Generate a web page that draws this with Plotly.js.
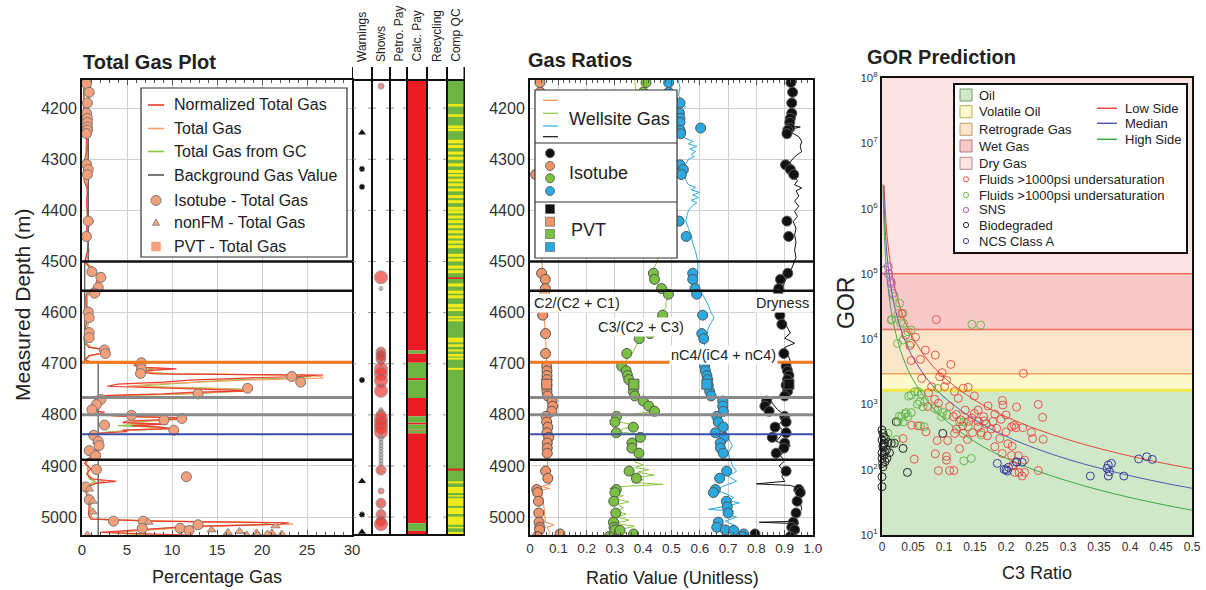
<!DOCTYPE html>
<html><head><meta charset="utf-8">
<script src="https://cdn.plot.ly/plotly-3.0.1.min.js"></script>
<style>html,body{margin:0;padding:0;background:#fff}#chart{width:1206px;height:590px}</style>
</head><body><div id="chart"></div>
<script>
// ================= DATA =================
const depthTicks = [4200,4300,4400,4500,4600,4700,4800,4900,5000];

// Panel 1 – Total gas curves (depth m, % gas)
const tgDepth = [4150,4180,4220,4250,4260,4280,4300,4320,4340,4350,4360,4380,4400,4420,4440,4460,4480,4500,4510,4520,4530,4540,4550,4560,4570,4590,4610,4630,4650,4660,4668,4672,4678,4684,4692,4697,4700,4704,4707,4710,4713,4716,4720,4722,4725,4728,4732,4736,4740,4744,4747,4750,4753,4756,4759,4762,4765,4770,4780,4790,4795,4800,4803,4806,4809,4812,4815,4818,4821,4824,4827,4830,4833,4836,4842,4850,4856,4862,4868,4875,4882,4888,4895,4905,4915,4925,4930,4934,4945,4960,4980,4995,5004,5008,5011,5014,5018,5022,5026,5030,5033,5035];
const tgNormalized = [0.2,0.2,0.2,0.3,0.5,0.6,0.3,0.5,0.2,0.4,0.7,0.5,0.6,0.6,0.5,0.7,0.6,0.3,0.7,1.2,1.8,1.6,1.4,0.6,0.4,0.5,0.6,0.4,0.2,0.3,0.8,2.4,2.8,0.8,0.3,1.0,6.0,5.8,7.0,10.5,7.5,6.5,8.0,26.8,24.0,18.0,12.0,9.0,4.0,2.8,10.0,14.0,18.5,12.0,9.0,3.0,1.0,1.5,1.2,0.8,2.5,1.5,5.0,11.5,10.0,5.0,4.5,9.5,5.5,8.5,10.0,4.5,5.0,1.5,1.0,2.0,1.2,2.2,1.5,2.0,1.0,0.5,0.3,1.0,0.5,1.0,3.8,1.5,0.3,0.6,0.8,0.7,1.0,8.0,23.0,22.0,12.0,9.0,5.0,2.0,8.0,12.0];
const tgTotal = [0.2,0.2,0.3,0.4,0.5,0.4,0.5,0.6,0.4,0.5,0.5,0.6,0.5,0.7,0.6,0.6,0.7,0.4,0.8,1.3,2.0,1.8,1.5,0.7,0.5,0.6,0.8,0.6,0.5,0.5,1.0,2.2,2.6,0.9,0.4,1.0,6.0,6.2,6.5,9.5,8.0,7.0,9.0,24.0,26.5,26.8,18.0,12.0,8.0,5.0,12.0,17.0,18.5,14.0,11.0,4.0,1.2,1.6,1.3,1.0,1.8,2.0,5.5,10.5,11.0,6.0,5.5,8.0,6.0,9.0,9.0,5.0,4.0,2.0,1.2,1.8,1.5,2.0,1.6,1.8,1.2,0.6,0.4,0.8,0.6,1.2,2.5,1.2,0.5,0.8,0.9,0.8,1.2,9.0,22.0,23.5,14.0,10.0,7.0,3.0,6.0,10.0];
const tgFromGC = [0.2,0.2,0.3,0.5,0.6,0.5,0.6,0.7,0.5,0.6,0.6,0.7,0.6,0.8,0.7,0.6,0.8,0.4,1.0,1.5,2.2,1.9,1.6,0.8,0.6,0.6,0.8,0.6,0.5,0.5,1.0,2.3,2.5,0.9,0.4,1.0,6.2,6.0,6.5,8.0,7.0,6.8,10.0,22.0,25.5,23.0,16.0,13.0,10.0,6.0,13.0,19.0,18.0,15.0,12.0,5.0,1.5,1.8,1.4,1.2,1.6,2.0,5.5,9.5,10.5,7.0,5.0,7.0,4.0,8.0,10.0,6.0,3.0,2.0,1.4,1.6,1.8,1.8,1.4,1.6,1.4,0.7,0.5,0.6,0.7,0.8,1.5,1.0,0.6,0.7,1.0,1.0,1.2,8.0,20.0,21.0,13.0,9.0,6.5,3.0,5.0,10.0];
const bgGasDepth = [4145,4500,4500,4697,4697,5035];
const bgGasValue = [0.7,0.7,0.3,0.3,1.8,1.8];
const isoTgDepth = [4152,4169,4190,4210,4220,4228,4237,4243,4250,4310,4320,4330,4421,4451,4520,4531,4551,4562,4599,4610,4639,4649,4673,4680,4698,4710,4719,4725,4736,4748,4759,4770,4780,4790,4801,4807,4810,4820,4830,4840,4852,4860,4870,4880,4907,4921,4941,4966,5008,5008,5015,5022,5022,5026];
const isoTgValue = [0.5,0.8,0.6,0.5,0.6,0.6,0.6,0.6,0.5,0.5,0.7,0.6,0.7,0.5,1.1,2.1,1.8,1.4,0.7,0.8,0.8,0.8,2.5,2.6,6.6,6.6,6.5,23.3,24.3,18.4,12.9,2.1,1.6,1.1,5.5,11.1,9.1,2.5,10.2,1.3,1.8,1.9,0.8,1.5,1.6,11.6,0.4,0.8,3.5,6.8,12.9,6.7,10.9,11.9];
const nonFmDepth = [4945,4969,4990,5010,5017,5025,5028,5030,5031,5031,5033,5033,5035,5035,5035];
const nonFmValue = [0.8,1.2,1.2,7.4,21.5,14.4,17.5,16.2,19.4,21.1,20.6,22.2,18.3,19.5,0.6];
const pvtTgDepth = [null];
const pvtTgValue = [null];
const markerDepth = [4500,4557,4697,4766,4800,4838,4888];
const markerKind  = ['top','top','gas','contact','contact','owc','top'];

// Tracks
const trackNames = ['Warnings','Shows','Petro. Pay','Calc. Pay','Recycling','Comp QC'];
const warnTriangleDepth = [4248,4930,5029];
const warnStarDepth = [4319,4354,4732,4995];
const showDepth = [4157,4531,4553,4677,4684,4691,4700,4710,4720,4733,4743,4753,4790,4800,4808,4816,4824,4834,4842,4848,4854,4860,4866,4872,4878,4884,4890,4896,4908,4949,4973,4995,5008,5014];
const showLevel = [1,3,0,2,2,2,0,3,3,3,0,3,0,2,3,3,3,3,0,0,0,0,0,0,0,0,0,0,2,1,2,2,2,3];
const calcPayFrom = [4145,4674,4680,4698,4728,4732,4767,4803,4815,4819,4829,4831,4836,5012,5027];
const calcPayTo   = [4674,4680,4698,4728,4732,4767,4803,4815,4819,4829,4831,4836,5012,5027,5035];
const calcPayFlag = [1,0,1,0,1,0,1,0,1,0,1,0,1,0,1];
const qcYellowFrom = [4192,4212,4234,4240,4262,4272,4285,4295,4308,4321,4329,4338,4347,4357,4370,4380,4393,4400,4410,4419,4429,4439,4449,4459,4468,4485,4494,4508,4517,4543,4557,4566,4583,4592,4607,4613,4649,4654,4662,4672,4681,4688,4708,4930,4941,4957,4963,4982,4999,5019,5029];
const qcYellowTo   = [4197,4217,4239,4245,4269,4278,4291,4301,4314,4327,4334,4344,4353,4363,4376,4386,4399,4406,4416,4425,4435,4445,4455,4465,4474,4491,4500,4514,4523,4549,4563,4572,4590,4597,4611,4617,4654,4658,4667,4676,4686,4692,4712,4934,4953,4960,4978,4994,5015,5022,5035];
const qcRedFrom = [4531,4905];
const qcRedTo   = [4534,4909];

// Panel 2 – Gas ratios, wellsite gas curves
const wsC2Depth = [4145,4180,4220,4260,4300,4340,4380,4420,4460,4500,4530,4560,4600,4640,4680,4720,4760,4785,4795,4805,4840,4880,4910,4925,4935,4940,4944,4948,4960,4990,5010,5015,5020,5030,5035];
const wsC2 = [0.04,0.041,0.04,0.042,0.041,0.04,0.042,0.041,0.043,0.042,0.045,0.05,0.05,0.055,0.058,0.06,0.062,0.07,0.075,0.06,0.062,0.063,0.06,0.065,0.075,0.04,0.07,0.03,0.045,0.05,0.055,0.085,0.06,0.07,0.065];
const wsC3Depth = [4145,4200,4250,4300,4350,4400,4450,4480,4500,4510,4520,4535,4550,4565,4580,4590,4600,4610,4620,4630,4640,4650,4660,4670,4680,4690,4700,4710,4720,4730,4740,4750,4760,4770,4778,4785,4790,4795,4800,4806,4812,4818,4822,4827,4833,4838,4842,4848,4855,4862,4870,4878,4885,4892,4898,4903,4907,4912,4918,4922,4927,4932,4936,4940,4944,4948,4953,4958,4964,4970,4975,4982,4988,4994,5000,5006,5012,5018,5024,5030,5035];
const wsC3 = [0.37,0.38,0.40,0.41,0.42,0.43,0.45,0.455,0.45,0.44,0.43,0.435,0.46,0.49,0.48,0.48,0.46,0.45,0.424,0.41,0.40,0.39,0.38,0.37,0.36,0.345,0.33,0.34,0.35,0.355,0.37,0.37,0.375,0.39,0.41,0.43,0.445,0.42,0.33,0.31,0.30,0.35,0.37,0.33,0.31,0.39,0.41,0.38,0.36,0.37,0.39,0.37,0.38,0.37,0.40,0.37,0.42,0.38,0.44,0.38,0.40,0.36,0.47,0.33,0.28,0.32,0.29,0.33,0.30,0.35,0.31,0.33,0.30,0.34,0.31,0.35,0.30,0.37,0.32,0.34,0.30];
const wsNC4Depth = [4145,4160,4175,4190,4198,4205,4215,4230,4245,4258,4265,4270,4275,4280,4285,4290,4295,4300,4310,4320,4330,4340,4350,4355,4360,4365,4370,4375,4380,4385,4390,4400,4410,4420,4435,4450,4465,4480,4500,4520,4540,4555,4570,4585,4600,4610,4620,4630,4645,4655,4700,4720,4740,4760,4770,4785,4800,4815,4830,4845,4860,4875,4890,4900,4910,4920,4930,4940,4948,4955,4962,4968,4972,4978,4985,4988,4995,5000,5008,5015,5022,5028,5035];
const wsNC4 = [0.524,0.53,0.525,0.54,0.55,0.535,0.53,0.535,0.55,0.545,0.575,0.56,0.59,0.565,0.585,0.57,0.58,0.56,0.55,0.54,0.545,0.55,0.56,0.585,0.57,0.6,0.575,0.595,0.57,0.59,0.575,0.56,0.555,0.55,0.56,0.57,0.575,0.585,0.593,0.593,0.59,0.6,0.615,0.63,0.64,0.65,0.64,0.63,0.625,0.615,0.625,0.63,0.635,0.645,0.68,0.69,0.67,0.68,0.69,0.70,0.715,0.70,0.71,0.716,0.73,0.70,0.73,0.68,0.66,0.695,0.72,0.70,0.74,0.70,0.63,0.72,0.70,0.73,0.69,0.72,0.70,0.73,0.72];
const wsDryDepth = [4145,4180,4220,4235,4237,4240,4248,4256,4265,4275,4285,4295,4305,4318,4330,4342,4350,4356,4362,4372,4382,4392,4402,4412,4422,4435,4448,4462,4478,4492,4505,4520,4540,4560,4580,4600,4620,4640,4650,4660,4668,4680,4695,4710,4730,4750,4762,4770,4780,4790,4800,4812,4822,4832,4842,4852,4860,4870,4880,4890,4900,4910,4920,4930,4935,4938,4945,4955,4970,4985,5000,5008,5010,5013,5020,5028,5035];
const wsDry = [0.93,0.925,0.92,0.92,0.955,0.93,0.925,0.95,0.96,0.955,0.96,0.935,0.92,0.925,0.93,0.945,0.935,0.96,0.94,0.95,0.935,0.95,0.935,0.945,0.93,0.94,0.935,0.94,0.935,0.94,0.93,0.92,0.90,0.885,0.88,0.89,0.90,0.92,0.90,0.935,0.90,0.91,0.92,0.915,0.905,0.90,0.89,0.85,0.86,0.875,0.90,0.89,0.875,0.90,0.885,0.87,0.92,0.90,0.885,0.90,0.88,0.90,0.89,0.90,0.80,0.92,0.96,0.95,0.955,0.96,0.94,0.945,0.81,0.95,0.93,0.95,0.94];

// Panel 2 – Isotube & PVT samples
const isoDepth = [4150,4169,4190,4210,4220,4228,4239,4243,4250,4311,4320,4330,4421,4451,4523,4535,4553,4564,4605,4623,4641,4651,4680,4705,4714,4723,4731,4742,4754,4763,4773,4783,4793,4803,4814,4824,4835,4844,4855,4865,4875,4910,4924,4946,4952,4969,4980,4992,5010,5020,5025,5026,5033,5038];
const isoC2  = [0.035,0.036,0.037,0.038,0.038,0.04,0.04,0.04,0.04,0.04,0.041,0.02,0.04,0.04,0.041,0.054,0.054,0.052,0.045,null,0.055,null,0.055,0.059,0.06,0.06,0.06,0.06,0.06,0.062,0.078,0.08,0.077,0.057,0.059,0.063,0.06,0.066,0.061,0.061,0.061,0.055,0.063,0.024,0.027,0.03,null,0.031,0.032,0.035,0.034,null,0.106,0.026];
const isoC3  = [0.41,0.40,0.40,0.40,0.41,0.41,0.42,0.41,0.42,0.42,0.43,0.42,0.43,0.44,0.436,0.44,0.465,0.489,0.469,null,0.424,0.386,0.342,0.324,0.34,0.345,0.349,0.365,0.365,0.37,0.40,0.42,0.44,0.306,0.30,0.365,0.305,0.39,0.36,0.36,0.385,0.35,0.376,0.305,0.30,0.296,null,0.303,0.295,0.297,0.30,0.318,0.366,0.28];
const isoNC4 = [0.49,0.49,0.53,0.528,0.53,0.53,0.603,0.53,0.532,0.53,0.542,0.535,0.527,0.552,0.575,0.575,0.583,0.589,0.61,null,0.607,0.614,null,0.617,0.62,0.625,0.628,0.63,0.635,0.64,0.681,0.681,0.683,0.66,0.665,0.683,0.655,0.686,0.672,0.673,0.683,0.695,0.67,0.655,0.648,0.694,0.697,0.70,0.665,0.66,0.69,0.72,0.755,0.75];
const isoDry = [0.922,0.928,0.925,0.925,0.92,0.918,0.918,0.911,0.908,0.903,0.92,0.932,0.908,0.914,0.911,0.885,0.879,0.877,0.883,0.89,null,null,0.897,0.905,0.91,0.915,0.91,0.905,0.91,0.90,0.836,0.83,0.845,0.90,0.905,0.866,0.905,0.856,0.90,0.897,0.87,0.905,null,0.95,0.955,0.944,null,0.94,0.93,0.925,0.935,null,0.795,0.92];
const pvtDepth = [4740];
const pvtC2 = [0.059], pvtC3 = [0.367], pvtNC4 = [0.625], pvtDry = [0.915];

// Panel 3 – GOR prediction
const gorBandName = ['Oil','Volatile Oil','Retrograde Gas','Wet Gas','Dry Gas'];
const gorBandLow  = [10,1650,2950,14000,100000];
const gorBandHigh = [1650,2950,14000,100000,1e8];
const lowSideC3  = [0.0034,0.004,0.005,0.007,0.01,0.015,0.02,0.03,0.04,0.05,0.075,0.1,0.15,0.2,0.25,0.3,0.35,0.4,0.45,0.5];
const lowSideGor = [2250000,1625000,1040000,530600,260000,115600,65000,28900,16250,10400,4620,2600,1156,650,416,289,212,162,128,104];
const medianC3   = [0.0024,0.003,0.004,0.005,0.007,0.01,0.015,0.02,0.03,0.04,0.05,0.075,0.1,0.15,0.2,0.25,0.3,0.35,0.4,0.45,0.5];
const medianGor  = [2260000,1440000,812500,520000,265300,130000,57800,32500,14400,8125,5200,2310,1300,578,325,208,144,106,81,64,52];
const highSideC3 = [0.0016,0.002,0.003,0.004,0.005,0.007,0.01,0.015,0.02,0.03,0.04,0.05,0.075,0.1,0.15,0.2,0.25,0.3,0.35,0.4,0.45,0.5];
const highSideGor= [2340000,1500000,667000,375000,240000,122400,60000,26700,15000,6670,3750,2400,1070,600,267,150,96,67,49,37.5,29.6,24];
const fluidsRedC3 = [0.0876,0.054,0.070,0.086,0.047,0.062,0.111,0.097,0.093,0.104,0.064,0.080,0.101,0.131,0.139,0.149,0.117,0.123,0.074,0.091,0.109,0.134,0.155,0.171,0.194,0.195,0.200,0.182,0.164,0.149,0.140,0.127,0.115,0.155,0.168,0.179,0.176,0.160,0.146,0.131,0.117,0.138,0.125,0.106,0.089,0.071,0.058,0.048,0.086,0.104,0.104,0.091,0.109,0.116,0.052,0.034,0.209,0.192,0.217,0.213,0.203,0.194,0.182,0.190,0.209,0.211,0.228,0.252,0.259,0.241,0.243,0.260,0.227,0.216,0.220,0.212,0.214,0.221,0.230,0.226,0.252,0.032,0.038,0.045,0.075,0.085,0.120,0.130,0.145,0.165,0.185,0.155,0.170,0.210,0.230,0.200,0.120];
const fluidsRedGor = [20000,10700,6800,5700,4700,4900,4100,3070,2650,2340,2500,1870,1870,1770,1830,1350,1580,1240,930,1040,930,820,820,950,1150,980,690,710,650,730,550,580,650,550,500,550,420,370,370,360,360,290,210,280,280,380,470,480,175,160,140,97,97,97,145,300,455,590,910,480,250,177,225,300,166,117,2990,1000,634,373,299,292,440,440,164,114,91,91,91,80,97,24500,11500,8000,1500,1200,700,470,620,560,430,450,330,230,140,380,420];
const fluidsGreenC3 = [0.0285,0.034,0.026,0.015,0.030,0.035,0.042,0.047,0.034,0.025,0.047,0.145,0.159,0.047,0.053,0.058,0.063,0.043,0.061,0.069,0.057,0.066,0.037,0.032,0.028,0.039,0.042,0.047,0.034,0.026,0.085,0.090,0.098,0.096,0.105,0.125,0.132,0.139,0.062,0.068,0.090,0.0097,0.023,0.132,0.144,0.160,0.0156,0.020];
const fluidsGreenGor = [35300,24800,24800,19600,17800,17400,13000,13800,9700,8600,8600,16800,16400,1390,1570,1570,1440,1340,1100,1100,1010,920,713,650,660,750,650,750,540,540,870,820,750,650,690,540,540,455,470,455,1760,360,290,137,149,340,20000,45000];
const snsC3  = [0.005,0.0102,0.0145,0.0172,0.0108,0.015];
const snsGor = [115000,129000,76000,50000,100000,71000];
const bioC3  = [0.0,0.0016,0.003,0.0,0.004,0.0097,0.015,0.02,0.0016,0.007,0.0,0.003,0.0,0.005,0.0016,0.0,0.0,0.023,0.034,0.041,0.098,0.012,0.006,0.002,0.008,0.001,0.004];
const bioGor = [405,360,320,285,254,260,254,254,225,200,182,168,149,133,111,78,55,543,212,91,360,182,300,240,150,125,190];
const ncsC3  = [0.186,0.197,0.202,0.204,0.217,0.217,0.226,0.336,0.365,0.363,0.367,0.370,0.365,0.390,0.414,0.427,0.436,0.200];
const ncsGor = [125,101,95,109,132,130,130,80,118,105,93,125,80,80,146,158,144,100];

// ================= LAYOUT HELPERS =================
const W = 1206, H = 590;
const px = v => v / W;
const py = v => 1 - v / H;
const FONT = 'Liberation Sans, Arial, Helvetica, sans-serif';
const TXT = '#222';
const yDom = [py(535), py(80)];
const shapes = [], annotations = [], traces = [];

function pRect(x0,y0,x1,y1,fill,lc,lw){shapes.push({type:'rect',xref:'paper',yref:'paper',x0:px(x0),x1:px(x1),y0:py(y1),y1:py(y0),fillcolor:fill,line:{color:lc,width:lw},layer:'above'});}
function pLine(x0,y0,x1,y1,c,w){shapes.push({type:'line',xref:'paper',yref:'paper',x0:px(x0),x1:px(x1),y0:py(y0),y1:py(y1),line:{color:c,width:w},layer:'above'});}
function pCircle(cx,cy,r,fill,lc,lw){shapes.push({type:'circle',xref:'paper',yref:'paper',x0:px(cx-r),x1:px(cx+r),y0:py(cy+r),y1:py(cy-r),fillcolor:fill,line:{color:lc,width:lw},layer:'above'});}
function pTri(cx,cy,s,fill,lc){shapes.push({type:'path',xref:'paper',yref:'paper',path:`M ${px(cx-s)} ${py(cy+s*0.8)} L ${px(cx+s)} ${py(cy+s*0.8)} L ${px(cx)} ${py(cy-s)} Z`,fillcolor:fill,line:{color:lc,width:0.8},layer:'above'});}
function pText(x,y,text,size,o){o=o||{};annotations.push(Object.assign({xref:'paper',yref:'paper',x:px(x),y:py(y),text:text,showarrow:false,xanchor:'left',yanchor:'middle',font:{family:FONT,size:size,color:TXT}},o));}

// ================= PANEL 1 TRACES =================
const C_RED='#ee3a2f', C_ORG='#f6a066', C_GRN='#8cc63f';
traces.push({type:'scatter',mode:'lines',x:tgFromGC,y:tgDepth,xaxis:'x',yaxis:'y',line:{color:C_GRN,width:1.2}});
traces.push({type:'scatter',mode:'lines',x:tgTotal,y:tgDepth,xaxis:'x',yaxis:'y',line:{color:C_ORG,width:1.2}});
traces.push({type:'scatter',mode:'lines',x:tgNormalized,y:tgDepth,xaxis:'x',yaxis:'y',line:{color:C_RED,width:1.2}});
traces.push({type:'scatter',mode:'lines',x:bgGasValue,y:bgGasDepth,xaxis:'x',yaxis:'y',line:{color:'#666',width:1.4}});
const isoMarker = {symbol:'circle',size:10,color:'#f4a07a',line:{color:'#777',width:1}};
traces.push({type:'scatter',mode:'markers',x:isoTgValue,y:isoTgDepth,xaxis:'x',yaxis:'y',marker:isoMarker});
traces.push({type:'scatter',mode:'markers',x:nonFmValue,y:nonFmDepth,xaxis:'x',yaxis:'y',marker:{symbol:'triangle-up',size:8,color:'#f4a07a',line:{color:'#777',width:0.8}}});
traces.push({type:'scatter',mode:'markers',x:pvtTgValue,y:pvtTgDepth,xaxis:'x',yaxis:'y',marker:{symbol:'square',size:9,color:'#f4a07a'}});

// marker (formation) lines
const kindStyle = {top:{color:'#111',width:2.5},gas:{color:'#f47b20',width:3},contact:{color:'#8a8a8a',width:3},owc:{color:'#3c4fa3',width:2}};
markerDepth.forEach((d,i)=>{
  const st = kindStyle[markerKind[i]];
  shapes.push({type:'line',xref:'x domain',x0:0,x1:1,yref:'y',y0:d,y1:d,line:st,layer:'above'});
  shapes.push({type:'line',xref:'x3 domain',x0:0,x1:1,yref:'y2',y0:d,y1:d,line:st,layer:'above'});
});

// ================= TRACKS =================
const edges = [0,20,38,55,75,95,112.5]; // track column edges (axis units)
const ctr = i => (edges[i]+edges[i+1])/2;
traces.push({type:'scatter',mode:'markers',x:warnTriangleDepth.map(()=>ctr(0)),y:warnTriangleDepth,xaxis:'x2',yaxis:'y4',marker:{symbol:'triangle-up',size:7,color:'#111'}});
traces.push({type:'scatter',mode:'markers',x:warnStarDepth.map(()=>ctr(0)),y:warnStarDepth,xaxis:'x2',yaxis:'y4',marker:{symbol:'asterisk-open',size:5,color:'#111',line:{color:'#111',width:1.3}}});
const showSize = {0:4,1:6,2:10,3:13}, showColor = {0:'#a0a0a0',1:'#e0605a',2:'#d63e38',3:'#ee3a34'};
traces.push({type:'scatter',mode:'markers',x:showDepth.map(()=>ctr(1)),y:showDepth,xaxis:'x2',yaxis:'y4',
  marker:{size:showLevel.map(l=>showSize[l]),color:showLevel.map(l=>showColor[l]),line:{color:'#7a7a7a',width:1}}});
function bandTrace(from,to,col,color,w){
  return {type:'bar',x:from.map(()=>ctr(col)),base:from,y:from.map((f,i)=>to[i]-f),width:w,xaxis:'x2',yaxis:'y4',marker:{color:color,line:{width:0}},hoverinfo:'skip'};
}
const payF=[],payT=[],nonF=[],nonT=[];
calcPayFrom.forEach((f,i)=>{ if(calcPayFlag[i]){payF.push(f);payT.push(calcPayTo[i]);} else {nonF.push(f);nonT.push(calcPayTo[i]);} });
traces.push(bandTrace(payF,payT,3,'#ed1c24',19));
traces.push(bandTrace(nonF,nonT,3,'#6cb543',19));
traces.push(bandTrace([4145],[5035],5,'#6cb543',16.5));
traces.push(bandTrace(qcYellowFrom,qcYellowTo,5,'#f2ea1a',16.5));
traces.push(bandTrace(qcRedFrom,qcRedTo,5,'#ed1c24',16.5));
// track frame
edges.forEach(e=>{
  shapes.push({type:'line',xref:'x2',yref:'paper',x0:e,x1:e,y0:py(536),y1:py(67),line:{color:'#111',width:2},layer:'above'});
});
shapes.push({type:'line',xref:'x2',yref:'paper',x0:0,x1:112.5,y0:py(80),y1:py(80),line:{color:'#111',width:2},layer:'above'});
shapes.push({type:'line',xref:'x2',yref:'paper',x0:0,x1:112.5,y0:py(535),y1:py(535),line:{color:'#111',width:2},layer:'above'});
depthTicks.forEach(d=>{
  edges.forEach(e=>{
    shapes.push({type:'line',xref:'x2',yref:'y4',x0:e-4,x1:e+4,y0:d,y1:d,line:{color:'#999',width:1},layer:'below'});
  });
});
trackNames.forEach((n,i)=>{
  annotations.push({xref:'x2',yref:'paper',x:ctr(i),y:py(64),text:n,textangle:-90,showarrow:false,xanchor:'center',yanchor:'bottom',font:{family:FONT,size:12,color:TXT}});
});

// ================= PANEL 2 TRACES =================
const R_ORG='#f58a4b', R_GRN='#8dc63f', R_BLU='#29aae1', R_BLK='#111';
traces.push({type:'scatter',mode:'lines',x:wsC2,y:wsC2Depth,xaxis:'x3',yaxis:'y2',line:{color:R_ORG,width:1}});
traces.push({type:'scatter',mode:'lines',x:wsC3,y:wsC3Depth,xaxis:'x3',yaxis:'y2',line:{color:R_GRN,width:1}});
traces.push({type:'scatter',mode:'lines',x:wsNC4,y:wsNC4Depth,xaxis:'x3',yaxis:'y2',line:{color:R_BLU,width:1}});
traces.push({type:'scatter',mode:'lines',x:wsDry,y:wsDryDepth,xaxis:'x3',yaxis:'y2',line:{color:R_BLK,width:1}});
[[isoC2,'#f0956a'],[isoC3,'#7ac143'],[isoNC4,'#29a9e0'],[isoDry,'#111']].forEach(([v,c])=>{
  traces.push({type:'scatter',mode:'markers',x:v,y:isoDepth,xaxis:'x3',yaxis:'y2',marker:{symbol:'circle',size:10,color:c,line:{color:'#555',width:1}}});
});
[[pvtC2,'#f0956a'],[pvtC3,'#7ac143'],[pvtNC4,'#29a9e0'],[pvtDry,'#111']].forEach(([v,c])=>{
  traces.push({type:'scatter',mode:'markers',x:v,y:pvtDepth,xaxis:'x3',yaxis:'y2',marker:{symbol:'square',size:10,color:c,line:{color:'#555',width:1}}});
});

// ================= PANEL 3 TRACES =================
const bandFill = ['#d0e7c8','#fdf9cd','#fde5c9','#f7c9c9','#fce3e3'];
gorBandName.forEach((n,i)=>{
  shapes.push({type:'rect',xref:'x4 domain',x0:0,x1:1,yref:'y3',y0:gorBandLow[i],y1:gorBandHigh[i],fillcolor:bandFill[i],line:{width:0},layer:'below'});
});
const bandEdgeStyle = [{color:'#f3e64a',width:3},{color:'#f4a35a',width:1.5},{color:'#ef6a5e',width:1.5},{color:'#ef6a5e',width:1.5}];
gorBandHigh.slice(0,4).forEach((v,i)=>{
  shapes.push({type:'line',xref:'x4 domain',x0:0,x1:1,yref:'y3',y0:v,y1:v,line:bandEdgeStyle[i],layer:'below'});
});
traces.push({type:'scatter',mode:'lines',x:lowSideC3,y:lowSideGor,xaxis:'x4',yaxis:'y3',line:{color:'#e8473a',width:1,shape:'spline'}});
traces.push({type:'scatter',mode:'lines',x:medianC3,y:medianGor,xaxis:'x4',yaxis:'y3',line:{color:'#4d5bb2',width:1,shape:'spline'}});
traces.push({type:'scatter',mode:'lines',x:highSideC3,y:highSideGor,xaxis:'x4',yaxis:'y3',line:{color:'#3aa84a',width:1,shape:'spline'}});
function openPts(x,y,c){return {type:'scatter',mode:'markers',x:x,y:y,xaxis:'x4',yaxis:'y3',cliponaxis:false,marker:{symbol:'circle-open',size:8,color:c,line:{width:1}}};}
traces.push(openPts(bioC3,bioGor,'#222'));
traces.push(openPts(fluidsGreenC3,fluidsGreenGor,'rgba(95,180,65,0.9)'));
traces.push(openPts(fluidsRedC3,fluidsRedGor,'rgba(236,58,58,0.85)'));
traces.push(openPts(snsC3,snsGor,'#b35cba'));
traces.push(openPts(ncsC3,ncsGor,'#3a3c9e'));

// ================= LEGENDS =================
// Panel 1
pRect(141,88,347,257,'#fff','#333',1.2);
const l1y = [105,128.5,151.5,175,200.5,222.5,246.5];
const l1txt = ['Normalized Total Gas','Total Gas','Total Gas from GC','Background Gas Value','Isotube - Total Gas','nonFM - Total Gas','PVT - Total Gas'];
[C_RED,C_ORG,C_GRN,'#555'].forEach((c,i)=>pLine(148,l1y[i],164,l1y[i],c,1.6));
pCircle(156,l1y[4],5,'#f4a07a','#777',1);
pTri(156,l1y[5],3.5,'#f4a07a','#777');
pRect(151.5,l1y[6]-4.5,160.5,l1y[6]+4.5,'#f4a07a','#f4a07a',0.5);
l1txt.forEach((t,i)=>pText(172,l1y[i],t,16));
// Panel 2
pRect(535,90,677,258,'#fff','#333',1.2);
pLine(535,143,677,143,'#333',1.2);
pLine(535,202,677,202,'#333',1.2);
[[100.3,R_ORG],[113.3,R_GRN],[126,R_BLU],[136.7,R_BLK]].forEach(([y,c])=>pLine(543,y,558,y,c,1.2));
[[153.3,'#111'],[166,'#f0956a'],[178.3,'#7ac143'],[191,'#29a9e0']].forEach(([y,c])=>pCircle(550,y,4.5,c,'#555',0.8));
[[209,'#111'],[221.7,'#f0956a'],[234,'#7ac143'],[247,'#29a9e0']].forEach(([y,c])=>pRect(545.5,y-4.5,554.5,y+4.5,c,'#555',0.6));
pText(567,118.5,'Wellsite Gas',18);
pText(567,173,'Isotube',18);
pText(569,230,'PVT',18);
// Panel 3
pRect(954,84,1187,253,'#fff','#111',2);
const l3y = [95,111.7,129.3,146,163.3];
const l3border = ['#6f9c62','#b7ad55','#c79a6b','#b97878','#b98a8a'];
gorBandName.forEach((n,i)=>{ pRect(960,l3y[i]-6,972,l3y[i]+6,bandFill[i],l3border[i],1); pText(977,l3y[i],n,13); });
const l3y2 = [179.3,195,210,225,241];
[['rgba(236,58,58,0.9)','Fluids >1000psi undersaturation'],['rgba(95,180,65,0.9)','Fluids >1000psi undersaturation'],['#b35cba','SNS'],['#222','Biodegraded'],['#3a3c9e','NCS Class A']].forEach(([c,t],i)=>{
  pCircle(966,l3y2[i],2.6,'rgba(0,0,0,0)',c,1); pText(977,l3y2[i],t,13);
});
[['#e8473a','Low Side',108.3],['#4d5bb2','Median',123.3],['#3aa84a','High Side',139.3]].forEach(([c,t,y])=>{
  pLine(1097,y,1117,y,c,1.5); pText(1123,y,t,13);
});

// ================= TEXT =================
pText(81,62,'<b>Total Gas Plot</b>',20);
pText(526,60,'<b>Gas Ratios</b>',20);
pText(865,57,'<b>GOR Prediction</b>',20);
pText(22,305,'Measured Depth (m)',21,{xanchor:'center',textangle:-90});
pText(217,577,'Percentage Gas',18,{xanchor:'center'});
pText(672,578,'Ratio Value (Unitless)',18,{xanchor:'center'});
pText(1037,573,'C3 Ratio',18,{xanchor:'center'});
pText(846,303,'GOR',23,{xanchor:'center',textangle:-90});
pText(532,303,'C2/(C2 + C1)',14.5,{bgcolor:'#fff'});
pText(811,303,'Dryness',14.5,{xanchor:'right',bgcolor:'#fff'});
pText(641,327,'C3/(C2 + C3)',14.5,{xanchor:'center',bgcolor:'#fff'});
pText(723,355,'nC4/(iC4 + nC4)',14.5,{xanchor:'center',bgcolor:'#fff'});

// ================= AXES =================
const frame = {showline:true,mirror:'ticks',linecolor:'#111',linewidth:2,zeroline:false,fixedrange:true};
const tickF = s => ({family:FONT,size:s,color:'#333'});
const layout = {
  width:W,height:H,margin:{l:0,r:0,t:0,b:0},paper_bgcolor:'#fff',plot_bgcolor:'#fff',
  showlegend:false,hovermode:false,barmode:'overlay',font:{family:FONT,color:TXT},
  xaxis:Object.assign({},frame,{domain:[px(82),px(352)],range:[0,30],anchor:'y',dtick:5,tick0:0,ticks:'inside',ticklen:5,tickcolor:'#555',
    showgrid:true,gridcolor:'#cfcfcf',gridwidth:1,tickfont:tickF(15),minor:{dtick:1,ticks:'inside',ticklen:3,tickcolor:'#555',showgrid:false}}),
  yaxis:Object.assign({},frame,{mirror:true,domain:yDom,range:[5035,4145],anchor:'x',tickmode:'array',tickvals:depthTicks,ticks:'',
    showgrid:true,gridcolor:'#cfcfcf',gridwidth:1,tickfont:tickF(16)}),
  xaxis2:{domain:[px(352),px(465)],range:[0,113],anchor:'y4',visible:false,fixedrange:true},
  yaxis4:{domain:yDom,range:[5035,4145],anchor:'x2',visible:false,fixedrange:true},
  xaxis3:Object.assign({},frame,{domain:[px(530),px(813)],range:[0,1],anchor:'y2',tickmode:'array',
    tickvals:[0,0.1,0.2,0.3,0.4,0.5,0.6,0.7,0.8,0.9,1.0],ticktext:['0','0.1','0.2','0.3','0.4','0.5','0.6','0.7','0.8','0.9','1.0'],
    ticks:'inside',ticklen:5,tickcolor:'#555',showgrid:true,gridcolor:'#cfcfcf',gridwidth:1,tickfont:tickF(13.5),
    minor:{tickmode:'linear',tick0:0,dtick:0.02,ticks:'inside',ticklen:3,tickcolor:'#555',showgrid:false}}),
  yaxis2:Object.assign({},frame,{mirror:true,domain:yDom,range:[5035,4145],anchor:'x3',tickmode:'array',tickvals:depthTicks,ticks:'',
    showgrid:true,gridcolor:'#cfcfcf',gridwidth:1,tickfont:tickF(16)}),
  xaxis4:Object.assign({},frame,{mirror:true,domain:[px(882),px(1192)],range:[0,0.5],anchor:'y3',dtick:0.05,tick0:0,ticks:'',showgrid:false,tickfont:tickF(12)}),
  yaxis3:Object.assign({},frame,{mirror:true,domain:[py(535),py(78)],type:'log',range:[1,8],anchor:'x4',tickmode:'array',
    tickvals:[1e1,1e2,1e3,1e4,1e5,1e6,1e7,1e8],ticktext:[1,2,3,4,5,6,7,8].map(k=>'10<sup>'+k+'</sup>'),ticks:'',showgrid:false,tickfont:tickF(11.5)}),
  shapes:shapes,annotations:annotations
};
traces.forEach(t=>{ if(!t.hoverinfo) t.hoverinfo='skip'; });
Plotly.newPlot('chart',traces,layout,{displayModeBar:false,staticPlot:true});
</script></body></html>
